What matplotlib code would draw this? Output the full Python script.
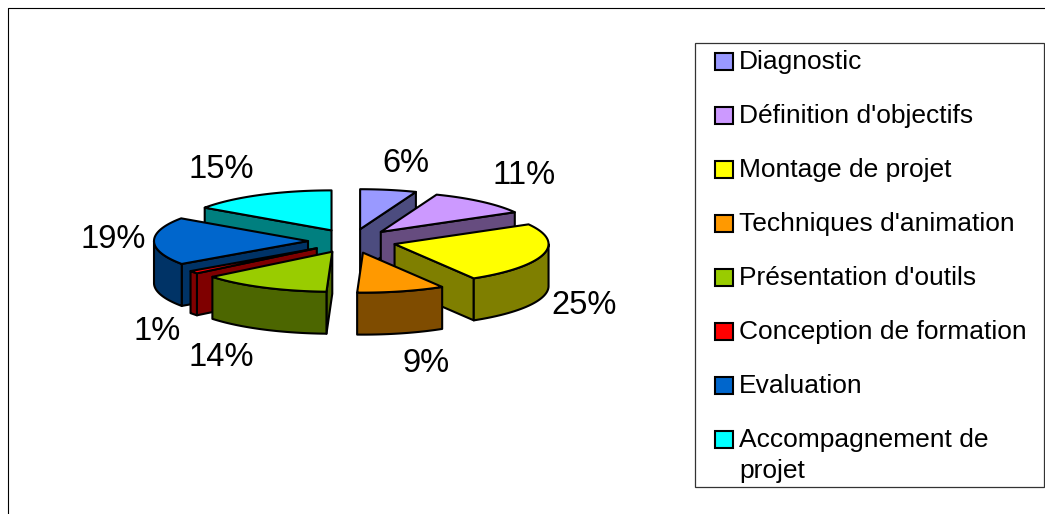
"""Camembert 3D éclaté : répartition par type d'activité."""

import numpy as np
import matplotlib
matplotlib.use("Agg")
import matplotlib.pyplot as plt
from matplotlib.patches import Polygon, Rectangle

categories = [
    "Diagnostic",
    "Définition d'objectifs",
    "Montage de projet",
    "Techniques d'animation",
    "Présentation d'outils",
    "Conception de formation",
    "Evaluation",
    "Accompagnement de\nprojet",
]
# parts estimées sur l'image, les étiquettes les arrondissent
values = [5.9, 10.9, 24.6, 9.2, 13.6, 1.1, 19.3, 15.4]
colors = ["#9999FF", "#CC99FF", "#FFFF00", "#FF9900",
          "#99CC00", "#FF0000", "#0066CC", "#00FFFF"]
sides = ["#4C4C7F", "#664C7F", "#7F7F00", "#7F4C00",
         "#4C6600", "#7F0000", "#003366", "#007F7F"]
label_pos = [(406, 163), (524, 176), (584, 306), (426, 363),
             (221, 357), (157, 332), (113, 240), (221, 169)]

# géométrie du pie, en pixels
CX, CY = 352, 241
RX, RY = 154, 40
EX, EY = 44, 12
DEPTH = 42
LW = 1.5

plt.rcParams["font.family"] = ["Liberation Sans", "DejaVu Sans"]

fig = plt.figure(figsize=(10.45, 5.14), dpi=100)
ax = fig.add_axes([0, 0, 1, 1])
ax.set_xlim(0, 1045)
ax.set_ylim(514, 0)
ax.axis("off")

# cadre du graphique, coupé en bas et à droite
ax.plot([8, 8, 1045], [514, 7.5, 7.5], color="black", lw=0.8, zorder=1)


def rim(t, x0, y0, dz=0.0):
    return np.column_stack([x0 + RX * np.sin(t), y0 - RY * np.cos(t) + dz])


def poly(pts, color, z):
    ax.add_patch(Polygon(pts, closed=True, facecolor=color, edgecolor="black",
                         lw=LW, joinstyle="round", zorder=z))


def wall(t, x0, y0, color, z):
    edge = rim(t, x0, y0)[0]
    poly([(x0, y0), edge, edge + (0, DEPTH), (x0, y0 + DEPTH)], color, z)


bounds = np.radians(np.cumsum([0] + values) * 3.6)
mids = (bounds[:-1] + bounds[1:]) / 2
# on dessine de l'arrière vers l'avant
order = np.argsort(-np.cos(mids))

for rank, i in enumerate(order):
    t0, t1 = bounds[i], bounds[i + 1]
    x0 = CX + EX * np.sin(mids[i])
    y0 = CY - EY * np.cos(mids[i])
    z = 2 + rank

    # parois radiales visibles
    if np.sin(t1) > 0:
        wall(t1, x0, y0, sides[i], z)
    if np.sin(t0) < 0:
        wall(t0, x0, y0, sides[i], z)

    # paroi extérieure (partie avant de l'arc)
    a0 = max(t0, np.pi / 2)
    a1 = min(t1, 3 * np.pi / 2)
    if a1 > a0:
        t = np.linspace(a0, a1, 60)
        poly(np.vstack([rim(t, x0, y0), rim(t[::-1], x0, y0, DEPTH)]), sides[i], z)

    # face du dessus
    t = np.linspace(t0, t1, 80)
    poly(np.vstack([(x0, y0), rim(t, x0, y0)]), colors[i], z)

for (lx, ly), v in zip(label_pos, values):
    ax.text(lx, ly, f"{v:.0f}%", fontsize=23.5, ha="center", va="center", zorder=50)

# légende
ax.add_patch(Rectangle((695, 43), 349, 443.5, facecolor="white",
                       edgecolor="#333333", lw=0.9, zorder=60))
for k, (name, col) in enumerate(zip(categories, colors)):
    yc = 61 + 54 * k
    ax.add_patch(Rectangle((715, yc - 8.5), 17.5, 17, facecolor=col,
                           edgecolor="black", lw=1.5, zorder=61))
    ax.text(739, yc - 11, name, fontsize=19, ha="left", va="top",
            linespacing=1.35, zorder=61)

fig.savefig("out.png", dpi=100, facecolor="white")
